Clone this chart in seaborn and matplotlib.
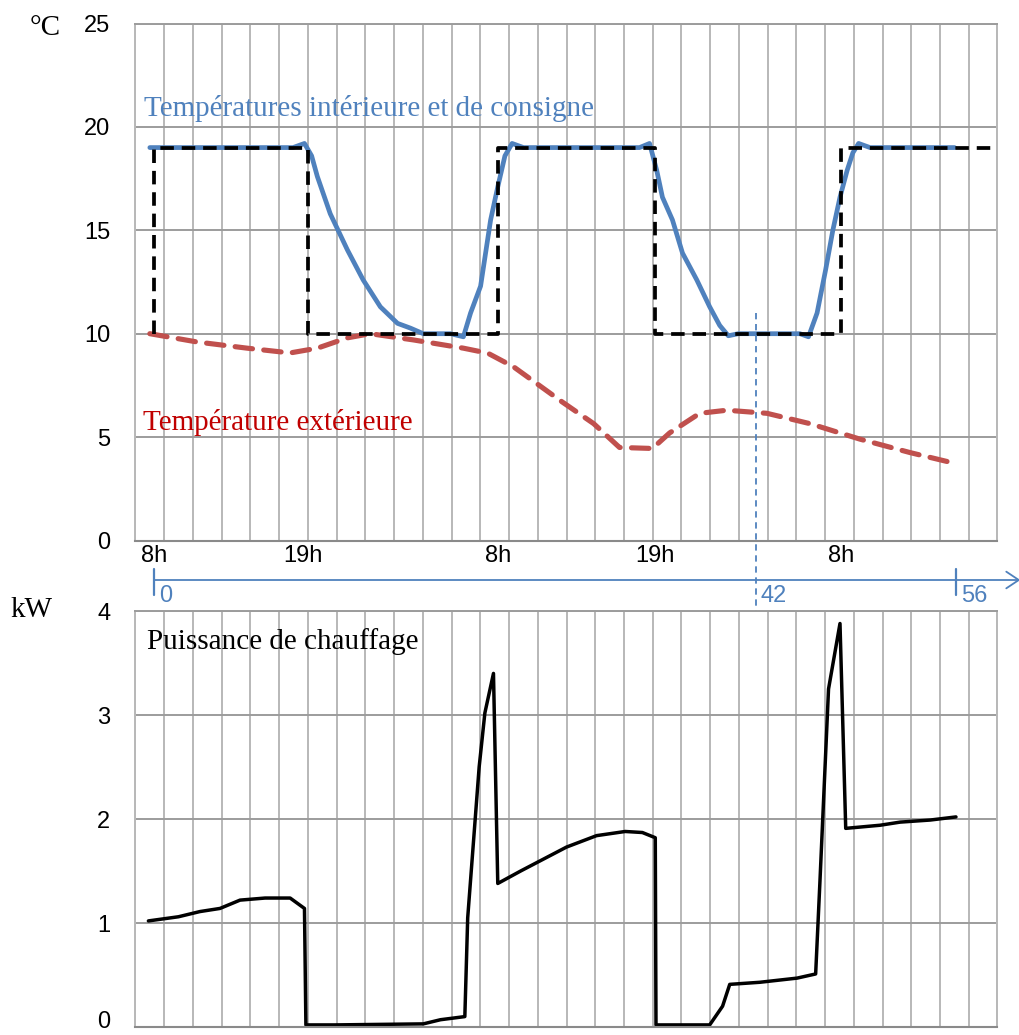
import numpy as np
import pandas as pd
import seaborn as sns
import matplotlib.pyplot as plt
import matplotlib.transforms as mtransforms
from matplotlib.ticker import FixedLocator

# time in hours since 8h of day 1
setpoint_t = [0, 0, 10.75, 10.75, 24, 24, 35, 35, 48, 48, 58.9]
setpoint_T = [10, 19, 19, 10, 10, 19, 19, 10, 10, 19, 19]

indoor_t = [-0.3, 2, 5, 8, 9.7, 10.5, 11.0, 11.4, 12.3, 13.5, 14.6, 15.8, 17.0, 17.9, 18.8,
            20.7, 21.6, 22.1, 22.8, 23.5, 24.0, 24.5, 25.0, 25.8, 28, 31, 33.9, 34.6,
            35.1, 35.5, 36.2, 36.9, 37.9, 38.8, 39.5, 40.1, 40.8, 43, 45.1, 45.7, 46.3,
            46.9, 47.4, 47.9, 48.4, 48.8, 49.2, 50.0, 53, 55.9]
indoor_T = [19, 19, 19, 19, 19, 19.2, 18.6, 17.6, 15.8, 14.05, 12.6, 11.3, 10.5, 10.27, 10.0,
            10.0, 9.85, 11.0, 12.3, 15.5, 17.1, 18.6, 19.2, 19.0, 19.0, 19.0, 19.0, 19.2,
            17.9, 16.6, 15.5, 13.9, 12.6, 11.3, 10.4, 9.9, 10.0, 10.0, 10.0, 9.85, 11.0,
            13.1, 15.0, 16.6, 17.9, 18.75, 19.2, 19.0, 19.0, 19.0]

outdoor_t = [-0.3, 3, 6.5, 9.5, 11.4, 13.5, 15.1, 18.1, 21.6, 23.3, 25.1, 28.5, 30.7,
             32.5, 34.8, 36.0, 38.1, 40.0, 42.8, 45.8, 49.3, 52.8, 55.5]
outdoor_T = [10.0, 9.6, 9.3, 9.07, 9.3, 9.8, 10.0, 9.7, 9.3, 9.06, 8.4, 6.7, 5.65,
             4.5, 4.45, 5.2, 6.15, 6.3, 6.15, 5.65, 4.9, 4.25, 3.8]

power_t = [-0.4, 1.7, 3.2, 4.6, 6.0, 7.75, 9.5, 10.5, 10.6, 12.6, 18.8, 20.0, 21.7,
           21.9, 22.7, 23.1, 23.7, 24.0, 25.6, 28.8, 30.9, 32.9, 34.1, 35.0, 35.05,
           38.8, 39.7, 40.2, 42.3, 44.9, 46.2, 46.5, 47.1, 47.9, 48.3, 50.7, 52.1,
           54.2, 56.0]
power_P = [1.02, 1.06, 1.11, 1.14, 1.22, 1.24, 1.24, 1.14, 0.02, 0.02, 0.03, 0.07, 0.1,
           1.05, 2.5, 3.02, 3.4, 1.38, 1.5, 1.73, 1.84, 1.88, 1.87, 1.82, 0.02,
           0.02, 0.2, 0.41, 0.43, 0.47, 0.51, 1.4, 3.25, 3.88, 1.91, 1.94, 1.97,
           1.99, 2.02]

hour_labels = ['8h', '19h', '8h', '19h', '8h']
hour_label_t = [0, 10.4, 24, 35, 48]
time_labels = [0, 42, 56]
time_marks = [0, 56]
temp_ticks = [0, 5, 10, 15, 20, 25]
power_ticks = [0, 1, 2, 3, 4]

sns.set_style('white')
plt.rcParams['font.family'] = ['Liberation Sans', 'DejaVu Sans']
plt.rcParams['text.color'] = 'black'
serif = ['Liberation Serif', 'DejaVu Serif']

BLUE = '#4f81bd'
RED = '#c0504d'
GRID_V = '#b8b8b8'
GRID_H = '#9c9c9c'
AXIS = '#8a8a8a'

W, H = 1020, 1035
fig = plt.figure(figsize=(W / 100, H / 100), dpi=100)


def fx(px):
    return px / W


def fy(py):
    return 1 - py / H


x0, x1 = -1.3, 58.9
ax1 = fig.add_axes([fx(135.5), fy(540.5), fx(997.5) - fx(135.5), fy(23.5) - fy(540.5)])
ax2 = fig.add_axes([fx(135.5), fy(1027), fx(997.5) - fx(135.5), fy(611) - fy(1027)])

for ax, ticks in ((ax1, temp_ticks), (ax2, power_ticks)):
    ax.set_xlim(x0, x1)
    ax.set_ylim(ticks[0], ticks[-1])
    ax.set_yticks(ticks)
    ax.xaxis.set_major_locator(FixedLocator(np.linspace(x0, x1, 7)))
    ax.xaxis.set_minor_locator(FixedLocator(np.linspace(x0, x1, 31)))
    ax.grid(which='both', axis='x', color=GRID_V, lw=1.4)
    ax.grid(which='major', axis='y', color=GRID_H, lw=1.4)
    ax.set_axisbelow(True)
    ax.tick_params(axis='x', which='minor', length=0)
    ax.tick_params(axis='x', which='major', length=6, width=1.3, color=AXIS,
                   labelbottom=False)
    ax.tick_params(axis='y', length=6, width=1.3, color=GRID_H, pad=12,
                   labelsize=17, labelcolor='black')
    for s in ('left', 'right'):
        ax.spines[s].set_color(GRID_V)
        ax.spines[s].set_linewidth(1.4)
    ax.spines['top'].set_color(GRID_H)
    ax.spines['top'].set_linewidth(1.4)
    ax.spines['bottom'].set_color(AXIS)
    ax.spines['bottom'].set_linewidth(1.5)

# top chart: temperatures
sns.lineplot(x=outdoor_t, y=outdoor_T, ax=ax1, estimator=None, sort=False,
             color=RED, lw=3.7, linestyle=(0, (3.4, 2.2)), dash_capstyle='round')
sns.lineplot(x=indoor_t, y=indoor_T, ax=ax1, estimator=None, sort=False,
             color=BLUE, lw=3.4, solid_capstyle='round', solid_joinstyle='round')
sns.lineplot(x=setpoint_t, y=setpoint_T, ax=ax1, estimator=None, sort=False,
             color='black', lw=2.7, linestyle=(0, (3.6, 2.1)))

# bottom chart: heating power
sns.lineplot(x=power_t, y=power_P, ax=ax2, estimator=None, sort=False,
             color='black', lw=2.5)

for ax in (ax1, ax2):
    ax.set_xlabel('')
    ax.set_ylabel('')
ax2.set_xticklabels([])

# keep the bottom "0" inside the picture
zero_lab = ax2.yaxis.get_major_ticks()[0].label1
zero_lab.set_transform(zero_lab.get_transform() +
                       mtransforms.ScaledTranslation(0, 0.08, fig.dpi_scale_trans))

# hour labels below the top chart
trans = mtransforms.blended_transform_factory(ax1.transData, fig.transFigure)
for t, lab in zip(hour_label_t, hour_labels):
    ax1.text(t, fy(545), lab, transform=trans, ha='center', va='top', fontsize=17,
             color='black')

# time axis in hours
ax1.annotate('', xy=(60.5, fy(580)), xytext=(0, fy(580)), xycoords=trans,
             textcoords=trans, annotation_clip=False,
             arrowprops=dict(arrowstyle='->,head_length=0.9,head_width=0.6',
                             color=BLUE, lw=1.3, shrinkA=0, shrinkB=0))
for t in time_marks:
    ax1.plot([t, t], [fy(569), fy(595)], transform=trans, color=BLUE, lw=1.6,
             clip_on=False)
for t in time_labels:
    ax1.text(t + 0.35, fy(585), str(t), transform=trans, ha='left', va='top',
             fontsize=17, color=BLUE)
ax1.plot([42, 42], [fy(313), fy(1015)], transform=trans, color=BLUE, lw=1.3,
         linestyle=(0, (3.5, 2.6)), clip_on=False)

# texts
fig.text(fx(30), fy(28), '°C', fontsize=21, family=serif, va='center', ha='left')
fig.text(fx(10), fy(610), 'kW', fontsize=21, family=serif, va='center', ha='left')
fig.text(fx(144), fy(108), 'Températures intérieure et de consigne', fontsize=21,
         family=serif, color=BLUE, va='center', ha='left')
fig.text(fx(143), fy(422), 'Température extérieure', fontsize=21,
         family=serif, color='#c00000', va='center', ha='left')
fig.text(fx(147), fy(642), 'Puissance de chauffage', fontsize=21,
         family=serif, color='black', va='center', ha='left')

fig.savefig('out.png', dpi=100)
